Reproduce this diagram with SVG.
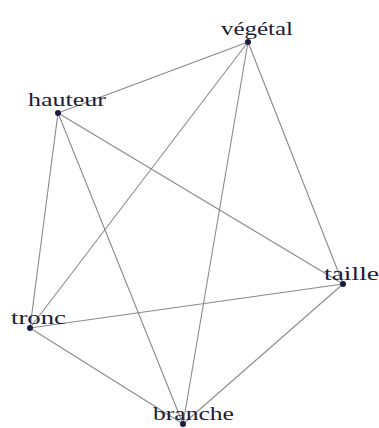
<svg xmlns="http://www.w3.org/2000/svg" width="379" height="428" viewBox="0 0 379 428">
<style>
.e{stroke:#8a8a8a;stroke-width:1.1;fill:none}
.d{fill:#1c1c4a}
.t{font-family:"Liberation Serif",serif;font-size:19px;fill:#1c1c3a}
</style>
<rect width="379" height="428" fill="#fff"/>
<g id="edges">
<line class="e" x1="248" y1="42" x2="58" y2="113"/>
<line class="e" x1="248" y1="42" x2="30" y2="328"/>
<line class="e" x1="248" y1="42" x2="183" y2="424"/>
<line class="e" x1="248" y1="42" x2="343" y2="284"/>
<line class="e" x1="58" y1="113" x2="343" y2="284"/>
<line class="e" x1="58" y1="113" x2="30" y2="328"/>
<line class="e" x1="58" y1="113" x2="183" y2="424"/>
<line class="e" x1="30" y1="328" x2="343" y2="284"/>
<line class="e" x1="30" y1="328" x2="183" y2="424"/>
<line class="e" x1="343" y1="284" x2="183" y2="424"/>
</g>
<g id="vegetal"><circle class="d" cx="248" cy="42" r="3"/><text class="t" x="221" y="35" textLength="72" lengthAdjust="spacingAndGlyphs">végétal</text></g>
<g id="hauteur"><circle class="d" cx="58" cy="113" r="3"/><text class="t" x="28" y="106" textLength="78" lengthAdjust="spacingAndGlyphs">hauteur</text></g>
<g id="taille"><circle class="d" cx="343" cy="284" r="3"/><text class="t" x="324" y="280" textLength="55" lengthAdjust="spacingAndGlyphs">taille</text></g>
<g id="tronc"><circle class="d" cx="30" cy="328" r="3"/><text class="t" x="11" y="324" textLength="55" lengthAdjust="spacingAndGlyphs">tronc</text></g>
<g id="branche"><circle class="d" cx="183" cy="424" r="3"/><text class="t" x="153" y="420" textLength="81" lengthAdjust="spacingAndGlyphs">branche</text></g>
</svg>
